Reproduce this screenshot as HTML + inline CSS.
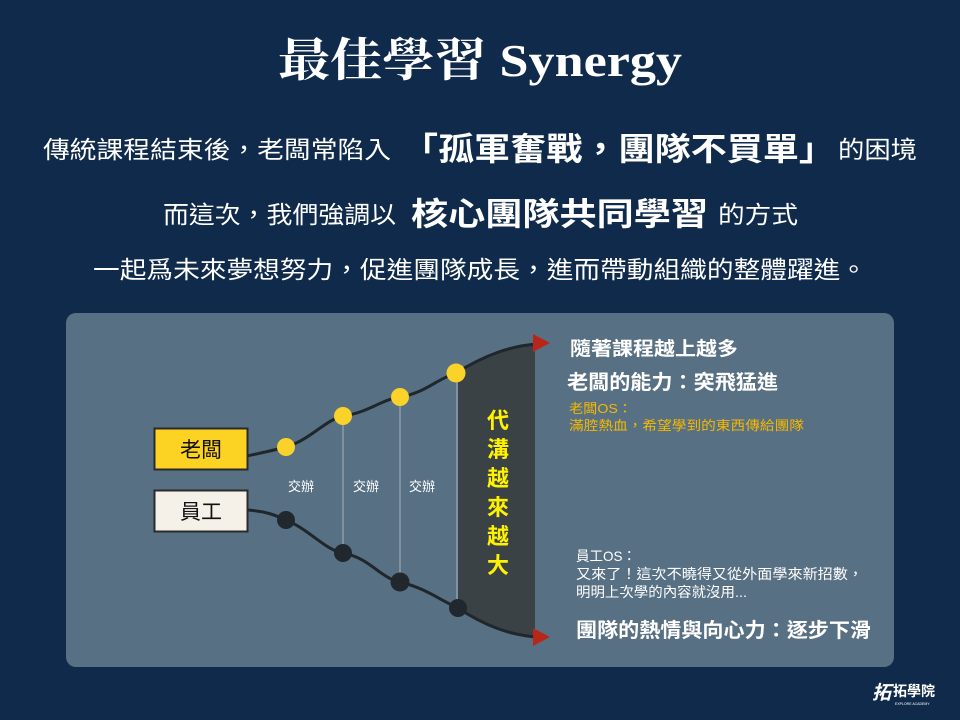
<!DOCTYPE html>
<html><head><meta charset="utf-8"><style>
html,body{margin:0;padding:0;background:#0f2a4a;}
svg{display:block}
text{font-family:"Liberation Sans","Noto Sans CJK TC",sans-serif;}
</style></head><body>
<svg width="960" height="720" viewBox="0 0 960 720" xmlns="http://www.w3.org/2000/svg">
<rect width="960" height="720" fill="#0f2a4a"/>
<text x="278" y="76" textLength="404" lengthAdjust="spacingAndGlyphs" style="font-family:'Liberation Serif','Noto Serif CJK SC',serif" font-size="46" font-weight="bold" fill="#fff">最佳學習 Synergy</text>

<g fill="#fff">
<text x="43" y="158" font-size="24" textLength="348" lengthAdjust="spacingAndGlyphs">傳統課程結束後，老闆常陷入</text>
<text x="402" y="160" font-size="32" font-weight="bold" textLength="433" lengthAdjust="spacingAndGlyphs">「孤軍奮戰，團隊不買單」</text>
<text x="838" y="158" font-size="24" textLength="79" lengthAdjust="spacingAndGlyphs">的困境</text>

<text x="163" y="223" font-size="24" textLength="233" lengthAdjust="spacingAndGlyphs">而這次，我們強調以</text>
<text x="411" y="225" font-size="32" font-weight="bold" textLength="297" lengthAdjust="spacingAndGlyphs">核心團隊共同學習</text>
<text x="718" y="223" font-size="24" textLength="80" lengthAdjust="spacingAndGlyphs">的方式</text>

<text x="93" y="278" font-size="24" textLength="774" lengthAdjust="spacingAndGlyphs">一起爲未來夢想努力，促進團隊成長，進而帶動組織的整體躍進。</text>
</g>

<rect x="66" y="313" width="828" height="354" rx="10" fill="#587083"/>

<path d="M458,373 C485,355 510,346 535,345 L535,636 C510,635 485,626 458,608 Z" fill="#3a4246"/>
<path d="M456,373 C485,355 510,346 537,344" stroke="#1f272d" stroke-width="3" fill="none"/>
<path d="M458,608 C485,626 510,635 537,637" stroke="#1f272d" stroke-width="3" fill="none"/>
<polygon points="533,334 550,343 533,352" fill="#b8261a"/>
<polygon points="533,628 550,637 533,646" fill="#b8261a"/>

<g stroke="#a8b4bc" stroke-width="1">
<line x1="343" y1="416" x2="343" y2="553"/>
<line x1="400" y1="397" x2="400" y2="582"/>
<line x1="457" y1="373" x2="457" y2="608"/>
</g>

<path d="M247,456 C265,452 275,450 286,447 C310,440 325,420 343,416 C370,412 380,400 400,397 C425,393 435,380 456,373" stroke="#1f272d" stroke-width="3" fill="none"/>
<path d="M247,510 C265,511 275,515 286,520 C310,530 325,550 343,553 C370,558 380,578 400,582 C425,588 440,600 458,608" stroke="#1f272d" stroke-width="3" fill="none"/>

<g fill="#fbd22a">
<circle cx="286" cy="447" r="9"/><circle cx="343" cy="416" r="9"/><circle cx="400" cy="397" r="9"/><circle cx="456" cy="373" r="9.5"/>
</g>
<g fill="#20282e">
<circle cx="286" cy="520" r="9"/><circle cx="343" cy="553" r="9"/><circle cx="400" cy="582" r="9.5"/><circle cx="458" cy="608" r="9"/>
</g>

<rect x="154.5" y="428.5" width="93" height="41" fill="#fdd323" stroke="#2a2a2a" stroke-width="2"/>
<text x="201" y="457" font-size="21" text-anchor="middle" fill="#111">老闆</text>
<rect x="154.5" y="490.5" width="93" height="41" fill="#f5f1e8" stroke="#2a2a2a" stroke-width="2"/>
<text x="201" y="519" font-size="21" text-anchor="middle" fill="#111">員工</text>

<g fill="#fff" font-size="13">
<text x="301" y="491" text-anchor="middle">交辦</text>
<text x="366" y="491" text-anchor="middle">交辦</text>
<text x="422" y="491" text-anchor="middle">交辦</text>
</g>

<g fill="#fff200" font-size="22" font-weight="bold" text-anchor="middle">
<text x="498" y="428">代</text>
<text x="498" y="457">溝</text>
<text x="498" y="486">越</text>
<text x="498" y="515">來</text>
<text x="498" y="544">越</text>
<text x="498" y="573">大</text>
</g>

<text x="570" y="355" font-size="19" font-weight="bold" fill="#fff" textLength="168" lengthAdjust="spacingAndGlyphs">隨著課程越上越多</text>
<text x="567" y="389" font-size="20" font-weight="bold" fill="#fff" textLength="211" lengthAdjust="spacingAndGlyphs">老闆的能力：突飛猛進</text>
<text x="569" y="413" font-size="13" fill="#f5b800" textLength="63" lengthAdjust="spacingAndGlyphs">老闆OS：</text>
<text x="569" y="430" font-size="13" fill="#f5b800" textLength="235" lengthAdjust="spacingAndGlyphs">滿腔熱血，希望學到的東西傳給團隊</text>

<g fill="#fff" font-size="14">
<text x="576" y="561" textLength="60" lengthAdjust="spacingAndGlyphs">員工OS：</text>
<text x="576" y="579" textLength="287" lengthAdjust="spacingAndGlyphs">又來了！這次不曉得又從外面學來新招數，</text>
<text x="576" y="597" textLength="171" lengthAdjust="spacingAndGlyphs">明明上次學的內容就沒用...</text>
</g>
<text x="576" y="637" font-size="20" font-weight="bold" fill="#fff" textLength="295" lengthAdjust="spacingAndGlyphs">團隊的熱情與向心力：逐步下滑</text>

<text x="872" y="699" font-size="19" font-weight="bold" fill="#fff" font-style="italic">拓</text>
<text x="893" y="696" font-size="14" font-weight="bold" fill="#fff">拓學院</text>
<text x="895" y="705" font-size="3.5" fill="#fff">EXPLORE ACADEMY</text>
</svg>
</body></html>
